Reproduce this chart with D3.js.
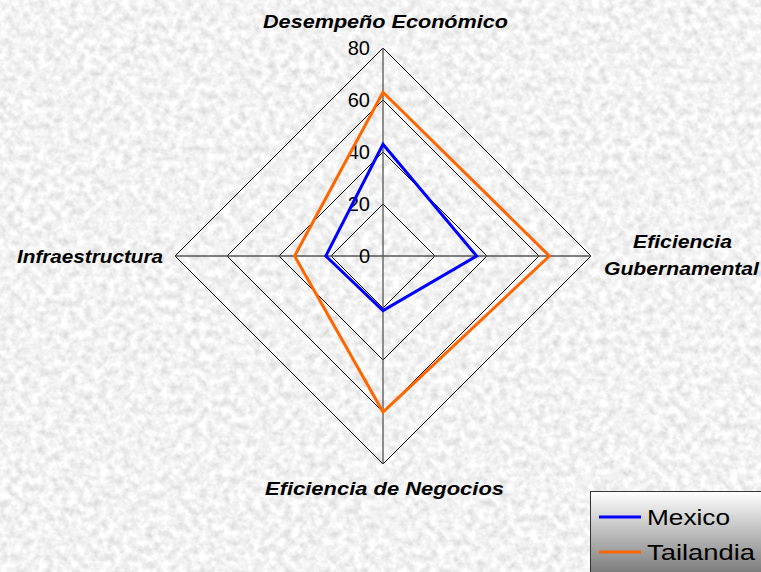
<!DOCTYPE html>
<html><head><meta charset="utf-8">
<script src="https://cdn.jsdelivr.net/npm/d3@7"></script>
<style>html,body{margin:0;padding:0;overflow:hidden;background:#e4e4e4}</style>
</head><body>
<svg id="chart" width="761" height="572"></svg>
<script>
const axes = ["Desempeño Económico", "Eficiencia Gubernamental", "Eficiencia de Negocios", "Infraestructura"];
const mexico = [43, 36, 21, 22];
const tailandia = [63, 64, 60, 34];
const seriesNames = ["Mexico", "Tailandia"];
const seriesColors = ["#0000ff", "#ff6600"];
const ticks = [0, 20, 40, 60, 80];

const W = 761, H = 572, cx = 383, cy = 256, R = 208;
const FONT = "Liberation Sans, Arial, sans-serif";
const svg = d3.select("#chart");
const defs = svg.append("defs");

const f = defs.append("filter").attr("id", "granite").attr("x", 0).attr("y", 0).attr("width", "100%").attr("height", "100%");
f.append("feTurbulence").attr("type", "fractalNoise").attr("baseFrequency", 0.13).attr("numOctaves", 3).attr("seed", 7).attr("result", "n");
f.append("feColorMatrix").attr("in", "n").attr("type", "matrix")
  .attr("values", "0.5 0 0 0 0.64  0.5 0 0 0 0.64  0.5 0 0 0 0.64  0 0 0 0 1");

svg.append("rect").attr("width", W).attr("height", H).attr("filter", "url(#granite)");

const lg = defs.append("linearGradient").attr("id", "legGrad").attr("x1", 0).attr("y1", 0).attr("x2", 0).attr("y2", 1);
lg.append("stop").attr("offset", "0%").attr("stop-color", "#ffffff");
lg.append("stop").attr("offset", "100%").attr("stop-color", "#6e6e6e");

const r = d3.scaleLinear().domain([0, 80]).range([0, R]);
const ang = (i) => i * 2 * Math.PI / axes.length;

const g = svg.append("g").attr("transform", `translate(${cx},${cy})`);

// grid diamonds
const gridLine = d3.lineRadial().angle((d, i) => ang(i)).radius(d => r(d)).curve(d3.curveLinearClosed);
ticks.filter(t => t > 0).forEach(t => {
  g.append("path").attr("d", gridLine(axes.map(() => t)))
    .attr("fill", "none").attr("stroke", "#000").attr("stroke-width", 1);
});

// spokes
axes.forEach((a, i) => {
  const x = r(80) * Math.sin(ang(i)), y = -r(80) * Math.cos(ang(i));
  g.append("line").attr("x1", 0).attr("y1", 0).attr("x2", x).attr("y2", y)
    .attr("stroke", "#555").attr("stroke-width", 1.3);
});

// tick labels
ticks.forEach(t => {
  g.append("text").attr("x", -13).attr("y", -r(t)).attr("dy", "0.36em")
    .attr("text-anchor", "end").attr("font-family", FONT)
    .attr("font-size", 20).attr("fill", "#000").text(t);
});

// series
const sLine = d3.lineRadial().angle((d, i) => ang(i)).radius(d => r(d)).curve(d3.curveLinearClosed);
[mexico, tailandia].forEach((s, k) => {
  g.append("path").attr("d", sLine(s)).attr("fill", "none")
    .attr("stroke", seriesColors[k]).attr("stroke-width", 3).attr("stroke-linejoin", "miter");
});

// axis labels
const lab = svg.append("g").attr("font-family", FONT)
  .attr("font-size", 17.5).attr("font-weight", "bold").attr("font-style", "italic").attr("fill", "#000");
function L(txt, x, y, w) {
  lab.append("text").attr("x", x).attr("y", y).attr("textLength", w)
    .attr("lengthAdjust", "spacingAndGlyphs").text(txt);
}
const eg = axes[1].split(" ");
L(axes[0], 263, 28, 245);
L(eg[0], 633, 248, 99);
L(eg[1], 604, 275, 155);
L(axes[2], 265, 495, 239);
L(axes[3], 17, 263, 146);

// legend
const leg = svg.append("g");
leg.append("rect").attr("x", 590.5).attr("y", 491.5).attr("width", 180).attr("height", 90)
  .attr("fill", "url(#legGrad)").attr("stroke", "#333").attr("stroke-width", 1);
const legW = [83, 108];
seriesNames.forEach((n, i) => {
  const y = 517 + i * 35;
  leg.append("line").attr("x1", 599).attr("x2", 641).attr("y1", y).attr("y2", y)
    .attr("stroke", seriesColors[i]).attr("stroke-width", 3);
  leg.append("text").attr("x", 647).attr("y", y).attr("dy", "0.36em")
    .attr("font-family", FONT).attr("font-size", 22)
    .attr("textLength", legW[i]).attr("lengthAdjust", "spacingAndGlyphs")
    .attr("fill", "#000").text(n);
});
</script>
</body></html>
